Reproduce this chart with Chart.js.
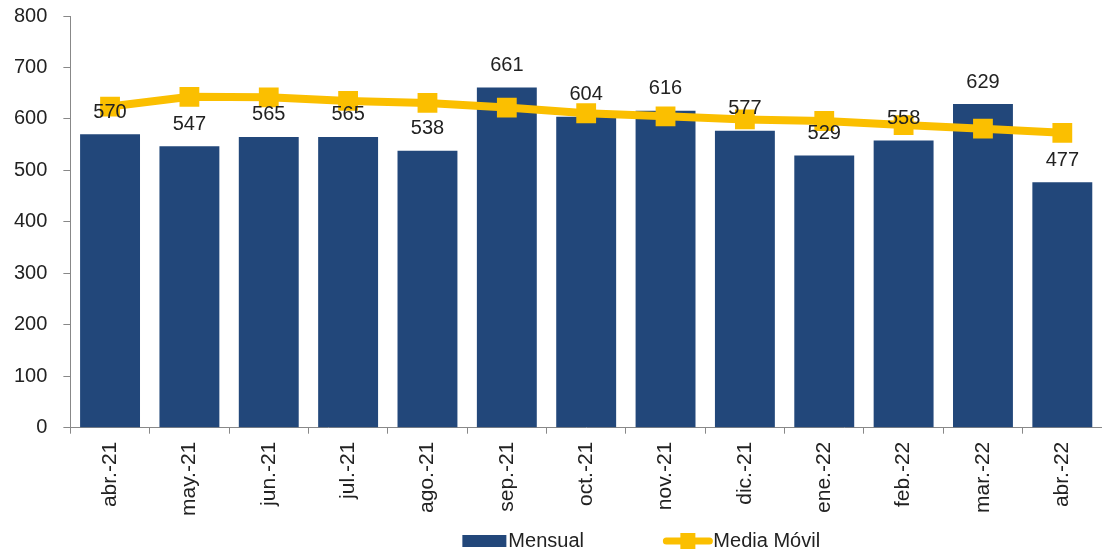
<!DOCTYPE html>
<html>
<head>
<meta charset="utf-8">
<script src="https://cdn.jsdelivr.net/npm/chart.js@4"></script>
<style>
    html, body { margin: 0; padding: 0; background: #fff; }
    #wrap { width: 1102px; height: 553px; position: relative; }
</style>
</head>
<body>
<div id="wrap"><canvas id="chart"></canvas></div>
<script>
const months = ["abr.-21", "may.-21", "jun.-21", "jul.-21", "ago.-21", "sep.-21", "oct.-21",
    "nov.-21", "dic.-21", "ene.-22", "feb.-22", "mar.-22", "abr.-22"];
const mensual = [570, 547, 565, 565, 538, 661, 604, 616, 577, 529, 558, 629, 477];
const mediaMovil = [624, 643, 642, 635, 631, 622, 611, 605, 599, 596, 588, 581, 573];
const yTicks = [0, 100, 200, 300, 400, 500, 600, 700, 800];

const BLUE = "#22477a";
const GOLD = "#fbbf00";
const TEXT = "#222";
const FONT = "'Liberation Sans', Arial, sans-serif";

const valueLabels = {
    id: "valueLabels",
    afterDatasetsDraw(chart) {
        const ctx = chart.ctx;
        const meta = chart.getDatasetMeta(0);
        ctx.save();
        ctx.font = "20px " + FONT;
        ctx.fillStyle = TEXT;
        ctx.textAlign = "center";
        ctx.textBaseline = "middle";
        meta.data.forEach((bar, i) => {
            ctx.fillText(String(mensual[i]), bar.x, bar.y - 22);
        });
        ctx.restore();
    }
};

// legend drawn by hand so it can sit right of centre like the original
const bottomLegend = {
    id: "bottomLegend",
    afterDraw(chart) {
        const ctx = chart.ctx;
        const area = chart.chartArea;
        const cy = chart.height - 12;
        let x = area.left + 392;
        ctx.save();
        ctx.font = "20px " + FONT;
        ctx.textBaseline = "middle";

        ctx.fillStyle = BLUE;
        ctx.fillRect(x, cy - 6, 44, 12);
        ctx.fillStyle = TEXT;
        ctx.fillText(chart.data.datasets[0].label, x + 46, cy);

        x += 201;
        ctx.strokeStyle = GOLD;
        ctx.lineWidth = 7;
        ctx.lineCap = "round";
        ctx.beginPath();
        ctx.moveTo(x + 3, cy);
        ctx.lineTo(x + 46, cy);
        ctx.stroke();
        ctx.fillStyle = GOLD;
        ctx.fillRect(x + 17, cy - 8, 15, 16);
        ctx.fillStyle = TEXT;
        ctx.fillText(chart.data.datasets[1].label, x + 50, cy);
        ctx.restore();
    }
};

new Chart(document.getElementById("chart"), {
    type: "bar",
    data: {
        labels: months,
        datasets: [{
            label: "Mensual",
            data: mensual,
            backgroundColor: BLUE,
            barPercentage: 0.755,
            categoryPercentage: 1,
            order: 1
        }, {
            type: "line",
            label: "Media Móvil",
            data: mediaMovil,
            borderColor: GOLD,
            backgroundColor: GOLD,
            borderWidth: 8,
            pointStyle: "rect",
            pointRadius: 14,
            pointHoverRadius: 14,
            pointBorderWidth: 0,
            tension: 0,
            order: 0
        }]
    },
    options: {
        responsive: true,
        maintainAspectRatio: false,
        animation: false,
        layout: { autoPadding: false, padding: { top: 16, right: 0, left: -2, bottom: 29 } },
        plugins: {
            tooltip: { enabled: false },
            legend: { display: false }
        },
        scales: {
            x: {
                grid: { drawOnChartArea: false, drawTicks: true, tickLength: 6, color: "#888", offset: true },
                border: { color: "#888" },
                ticks: {
                    minRotation: 90,
                    maxRotation: 90,
                    color: TEXT,
                    padding: 8,
                    font: { family: FONT, size: 21 }
                }
            },
            y: {
                min: 0,
                max: 800,
                afterBuildTicks(axis) {
                    axis.ticks = yTicks.map(v => ({ value: v }));
                },
                // tick padding would otherwise push the plot top down
                afterFit(axis) {
                    axis.paddingTop = 0;
                    axis.paddingBottom = 0;
                },
                grid: { drawOnChartArea: false, drawTicks: true, tickLength: 7, color: "#888" },
                border: { color: "#888" },
                ticks: {
                    color: TEXT,
                    padding: 16,
                    font: { family: FONT, size: 20 }
                }
            }
        }
    },
    plugins: [valueLabels, bottomLegend]
});
</script>
</body>
</html>
